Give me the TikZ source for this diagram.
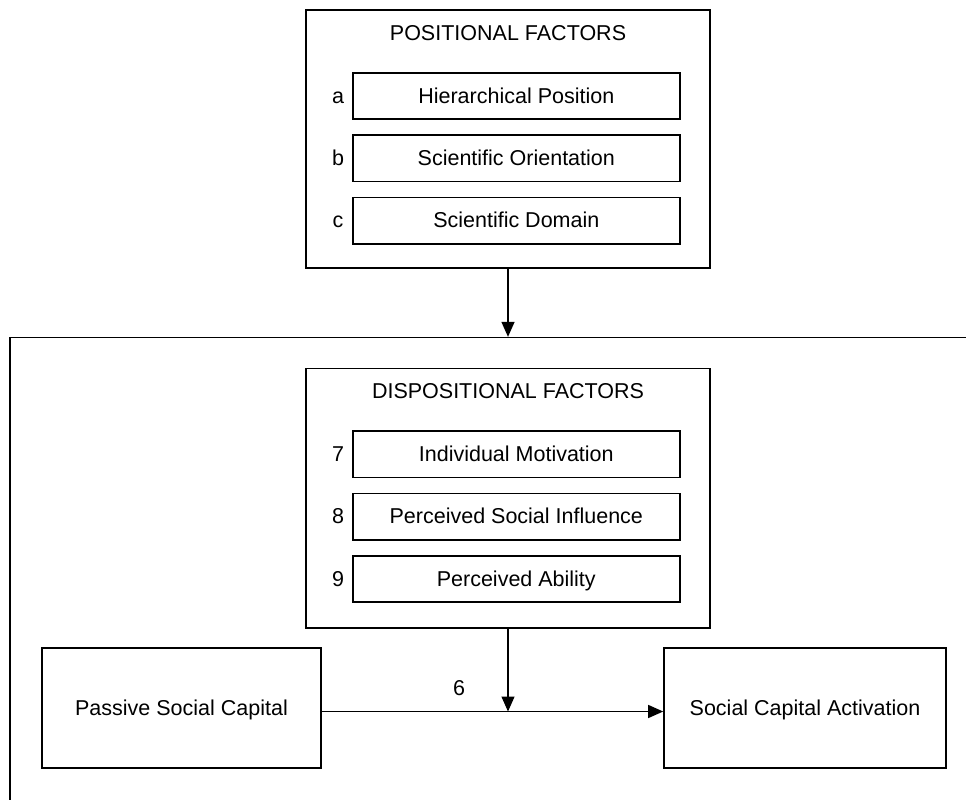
\documentclass[tikz,border=0pt]{standalone}
\usepackage{fontspec}
\setmainfont{Liberation Sans}
\usetikzlibrary{arrows.meta}
\begin{document}
\begin{tikzpicture}[x=1pt,y=-1pt,
  every node/.style={font=\fontsize{21.5}{26}\selectfont, inner sep=0pt,
    text height=18pt, text depth=3.5pt},
  outerbox/.style={draw, line width=1.6pt, rectangle, minimum width=404pt},
  itembox/.style={draw, line width=1.6pt, rectangle, minimum width=327pt, minimum height=46.5pt},
  endbox/.style={draw, line width=1.6pt, rectangle, minimum height=120pt},
  framebox/.style={draw, line width=1.3pt, rectangle},
  flow/.style={line width=1.3pt, -{Triangle[length=15pt,width=13pt]}}]
\useasboundingbox (0,0) rectangle (966,800);
\clip (0,0) rectangle (966,800);
\fill[white] (0,0) rectangle (966,800);

% outer frame of the lower model (runs past the page edges)
\node[framebox, minimum width=1000pt, minimum height=522pt] (frame) at (510,598.5) {};

% positional factors
\node[outerbox, minimum height=258pt] (pos) at (508,139) {};
\node (postitle) at (508,33) {POSITIONAL FACTORS};
\node[itembox] (pa) at (516.3,96) {Hierarchical Position};
\node[itembox] (pb) at (516.3,158.3) {Scientific Orientation};
\node[itembox] (pc) at (516.3,220.7) {Scientific Domain};
\node (la) at (338,96) {a};
\node (lb) at (338,158.3) {b};
\node (lc) at (338,220.7) {c};

% dispositional factors
\node[outerbox, minimum height=259.5pt] (disp) at (508,498.3) {};
\node (disptitle) at (508,391.5) {DISPOSITIONAL FACTORS};
\node[itembox] (d7) at (516.3,454.3) {Individual Motivation};
\node[itembox] (d8) at (516.3,516.7) {Perceived Social Influence};
\node[itembox] (d9) at (516.3,579) {Perceived Ability};
\node (l7) at (338,454.3) {7};
\node (l8) at (338,516.7) {8};
\node (l9) at (338,579) {9};

% capital boxes
\node[endbox, minimum width=279pt] (pass) at (181.5,708) {Passive Social Capital};
\node[endbox, minimum width=282pt] (act) at (805,708) {Social Capital Activation};

% connectors
\draw[flow] (pos.south) -- (pos.south |- frame.north);
\draw[flow] ([yshift=-3.5pt]pass.east) -- ([yshift=-3.5pt]act.west);
\coordinate (join) at (disp.south |- 0,711.5);
\draw[flow] (disp.south) -- (join);
\node (six) at (459,688) {6};
\end{tikzpicture}
\end{document}
